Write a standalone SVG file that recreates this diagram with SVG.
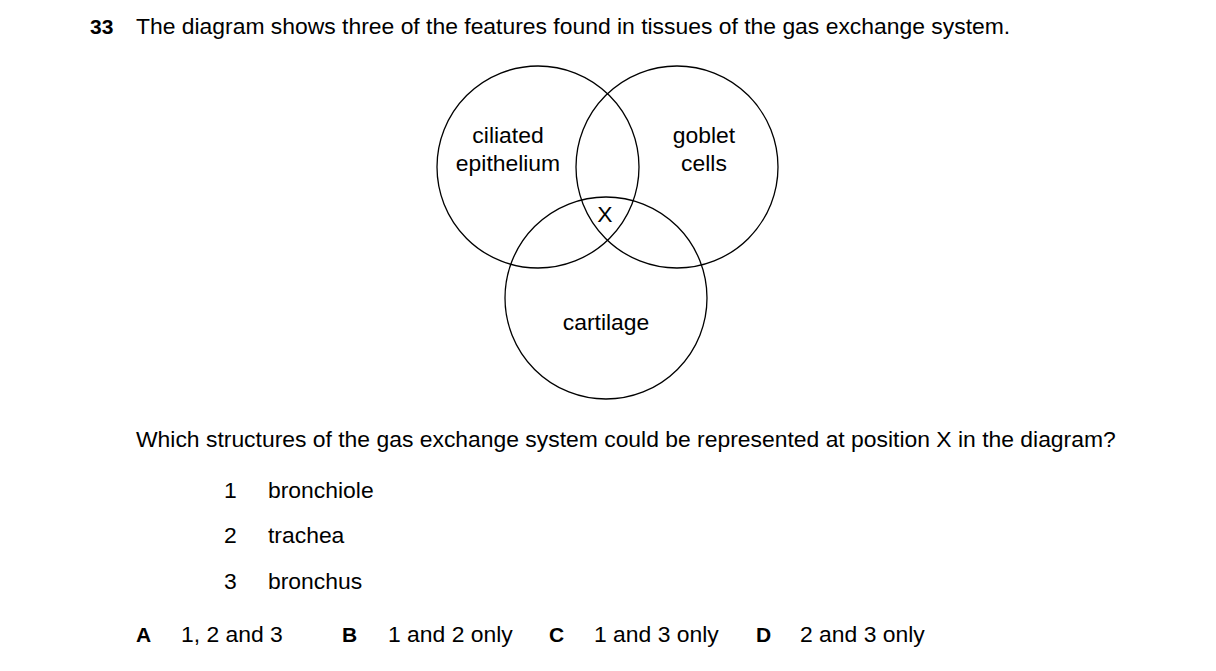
<svg xmlns="http://www.w3.org/2000/svg" width="1216" height="671" viewBox="0 0 1216 671">
<style>
text{font-family:"Liberation Sans",Arial,sans-serif;font-size:22.9px;fill:#000}
.b{font-weight:bold;font-size:21px}
circle{fill:none;stroke:#000;stroke-width:1.3}
.m{text-anchor:middle}
</style>
<rect width="1216" height="671" fill="#fff"/>
<text x="90" y="34" class="b">33</text>
<text x="136" y="34">The diagram shows three of the features found in tissues of the gas exchange system.</text>
<g id="circle-ciliated"><circle cx="538" cy="167" r="101"/><text x="508" y="143" class="m">ciliated</text><text x="508" y="171" class="m">epithelium</text></g>
<g id="circle-goblet"><circle cx="677" cy="167" r="101"/><text x="704" y="143" class="m">goblet</text><text x="704" y="171" class="m">cells</text></g>
<g id="circle-cartilage"><circle cx="606" cy="298" r="101"/><text x="606" y="330" class="m">cartilage</text></g>
<g id="x"><text x="605" y="222" class="m">X</text></g>
<g id="connectors"></g>
<text x="136" y="447">Which structures of the gas exchange system could be represented at position X in the diagram?</text>
<text x="224" y="498">1</text><text x="268" y="498">bronchiole</text>
<text x="224" y="543">2</text><text x="268" y="543">trachea</text>
<text x="224" y="589">3</text><text x="268" y="589">bronchus</text>
<text x="136" y="642" class="b">A</text><text x="181" y="642">1, 2 and 3</text>
<text x="342" y="642" class="b">B</text><text x="388" y="642">1 and 2 only</text>
<text x="549" y="642" class="b">C</text><text x="594" y="642">1 and 3 only</text>
<text x="756" y="642" class="b">D</text><text x="800" y="642">2 and 3 only</text>
</svg>
